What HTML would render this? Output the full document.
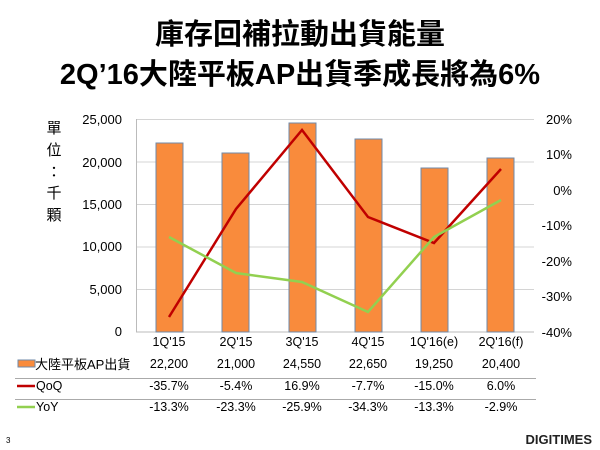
<!DOCTYPE html>
<html><head><meta charset="utf-8"><style>
body{margin:0;width:600px;height:450px;background:#fff;overflow:hidden}
svg{display:block}
text{font-family:"Liberation Sans","Noto Sans CJK TC",sans-serif}
</style></head><body>
<svg width="600" height="450" viewBox="0 0 600 450">
<text x="300" y="44" font-size="29" font-weight="bold" text-anchor="middle">庫存回補拉動出貨能量</text>
<text x="300" y="84" font-size="29" font-weight="bold" text-anchor="middle">2Q’16大陸平板AP出貨季成長將為6%</text>
<g font-size="15" text-anchor="middle"><text x="54" y="133">單</text><text x="54" y="155">位</text><text x="54" y="177">：</text><text x="54" y="198">千</text><text x="54" y="220">顆</text></g>
<g stroke="#d4d4d4" stroke-width="1">
<line x1="136" x2="534" y1="119.5" y2="119.5"/><line x1="136" x2="534" y1="162" y2="162"/><line x1="136" x2="534" y1="204.5" y2="204.5"/><line x1="136" x2="534" y1="247" y2="247"/><line x1="136" x2="534" y1="289.5" y2="289.5"/></g>
<line x1="136.5" y1="119" x2="136.5" y2="332" stroke="#bbb"/>
<line x1="136" y1="332" x2="534" y2="332" stroke="#bbb"/>
<g font-size="13" text-anchor="end"><text x="122" y="124">25,000</text><text x="122" y="167">20,000</text><text x="122" y="209">15,000</text><text x="122" y="251">10,000</text><text x="122" y="294">5,000</text><text x="122" y="336">0</text></g>
<g font-size="13" text-anchor="end"><text x="572" y="124">20%</text><text x="572" y="159">10%</text><text x="572" y="195">0%</text><text x="572" y="230">-10%</text><text x="572" y="266">-20%</text><text x="572" y="301">-30%</text><text x="572" y="337">-40%</text></g>
<g fill="#f98b3c" stroke="#6f8aa8" stroke-width="1">
<rect x="156" y="143" width="27" height="189"/><rect x="222" y="153" width="27" height="179"/><rect x="289" y="123" width="27" height="209"/><rect x="355" y="139" width="27" height="193"/><rect x="421" y="168" width="27" height="164"/><rect x="487" y="158" width="27" height="174"/></g>
<polyline fill="none" stroke="#c00000" stroke-width="2.5" points="169,317 236,209 302,130 368,217 434,243 501,169"/>
<polyline fill="none" stroke="#92d050" stroke-width="2.5" points="169,237 236,273 302,282 368,312 434,237 501,200"/>
<g font-size="12.5" text-anchor="middle">
<text x="169" y="346">1Q'15</text><text x="236" y="346">2Q'15</text><text x="302" y="346">3Q'15</text><text x="368" y="346">4Q'15</text><text x="434" y="346">1Q'16(e)</text><text x="501" y="346">2Q'16(f)</text>
<text x="169" y="368">22,200</text><text x="236" y="368">21,000</text><text x="302" y="368">24,550</text><text x="368" y="368">22,650</text><text x="434" y="368">19,250</text><text x="501" y="368">20,400</text>
<text x="169" y="390">-35.7%</text><text x="236" y="390">-5.4%</text><text x="302" y="390">16.9%</text><text x="368" y="390">-7.7%</text><text x="434" y="390">-15.0%</text><text x="501" y="390">6.0%</text>
<text x="169" y="411">-13.3%</text><text x="236" y="411">-23.3%</text><text x="302" y="411">-25.9%</text><text x="368" y="411">-34.3%</text><text x="434" y="411">-13.3%</text><text x="501" y="411">-2.9%</text></g>
<line x1="15" x2="536" y1="378.5" y2="378.5" stroke="#aaa"/><line x1="15" x2="536" y1="399.5" y2="399.5" stroke="#aaa"/>
<rect x="18" y="360" width="17" height="7" fill="#f98b3c" stroke="#6f8aa8"/>
<text x="35" y="369" font-size="13">大陸平板AP出貨</text>
<line x1="17" x2="35" y1="386" y2="386" stroke="#c00000" stroke-width="2.5"/><text x="36" y="390" font-size="12.5">QoQ</text>
<line x1="17" x2="35" y1="407" y2="407" stroke="#92d050" stroke-width="2.5"/><text x="36" y="411" font-size="12.5">YoY</text>
<text x="6" y="443" font-size="8">3</text>
<text x="592" y="444" font-size="13" font-weight="bold" text-anchor="end" fill="#222">DIGITIMES</text>
</svg>
</body></html>
